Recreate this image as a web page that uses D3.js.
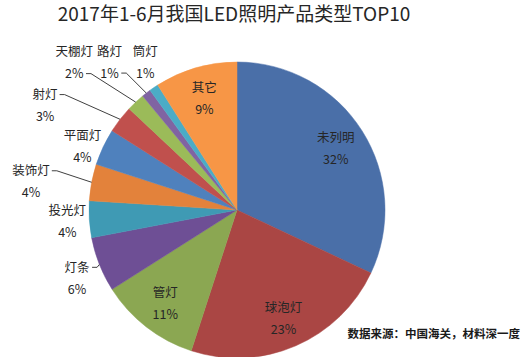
<!DOCTYPE html>
<html><head><meta charset="utf-8">
<script src="https://cdn.jsdelivr.net/npm/d3@7"></script>
<style>
body{margin:0;background:#fff;}
svg{display:block;}
text{font-family:"Noto Sans CJK SC","Noto Sans",sans-serif;}
</style></head>
<body>
<svg id="c" width="527" height="357"></svg>
<script>
const categories = ["未列明","球泡灯","管灯","灯条","投光灯","装饰灯","平面灯","射灯","天棚灯","路灯","筒灯","其它"];
const values = [32,23,11,6,4,4,4,3,2,1,1,9];
const colors = ["#4a6fa8","#aa4644","#8ba752","#6e4f95","#3f9ab4","#e3823b","#4f81bd","#c0504d","#9bbb59","#8064a2","#4bacc6","#f79646"];
const title = "2017年1-6月我国LED照明产品类型TOP10";
const source = "数据来源：中国海关，材料深一度";

// label layout (positions/styles, separate from data)
const insideSet = new Set(["未列明","球泡灯","管灯","其它"]);
const nudges = {
  "灯条":[0,4,"name"], "投光灯":[2,0,null], "装饰灯":[-37,3,"name"], "平面灯":[1,9,null],
  "射灯":[-56,0,"name"], "天棚灯":[-45,-23,"pct"], "路灯":[-22,-13,"pct"], "筒灯":[5,-6,null]
};

const W=527,H=357, cx=237, cy=210, R=148;
const svg=d3.select("#c");
svg.append("text").attr("x",234).attr("y",21).attr("text-anchor","middle")
  .attr("font-size",19).attr("fill","#262626").text(title);

const data = categories.map((c,i)=>({name:c,value:values[i],color:colors[i]}));
const pie = d3.pie().value(d=>d.value).sort(null);
const arcs = pie(data);
const arc = d3.arc().innerRadius(0).outerRadius(R);
const g = svg.append("g").attr("transform",`translate(${cx},${cy})`);
g.selectAll("path").data(arcs).join("path").attr("d",arc).attr("fill",d=>d.data.color)
  .attr("stroke",d=>d.data.color).attr("stroke-width",0.5);

const fs=12.5;
arcs.forEach(a=>{
  const mid=(a.startAngle+a.endAngle)/2;
  const name=a.data.name, pct=Math.round(a.value)+"%";
  let x,y, lead=null;
  if(insideSet.has(name)){
    const c=d3.arc().innerRadius(117).outerRadius(117).centroid(a);
    x=c[0]; y=c[1];
  } else {
    const r=172;
    const n=nudges[name]||[0,0,null];
    x=r*Math.sin(mid)+n[0]; y=-r*Math.cos(mid)+n[1]; lead=n[2];
  }
  const col = "#262626";
  const t1=g.append("text").attr("x",x).attr("y",y-11).attr("text-anchor","middle")
    .attr("dominant-baseline","central").attr("font-size",fs).attr("fill",col).text(name);
  const t2=g.append("text").attr("x",x).attr("y",y+11).attr("text-anchor","middle")
    .attr("dominant-baseline","central").attr("font-size",fs).attr("fill",col).text(pct);
  if(lead){
    const tn = lead==="name"?t1:t2;
    const bb = tn.node().getBBox();
    const sx = bb.x+bb.width+2, sy = lead==="name"? y-10 : y+12;
    const ex = R*Math.sin(mid), ey=-R*Math.cos(mid);
    g.append("path").attr("d",`M${sx},${sy}L${sx+5},${sy}L${ex},${ey}`)
      .attr("fill","none").attr("stroke","#404040").attr("stroke-width",1);
  }
});

svg.append("text").attr("x",520).attr("y",333).attr("text-anchor","end")
  .attr("dominant-baseline","central").attr("font-size",11.5).attr("font-weight","bold")
  .attr("fill","#1a1a1a").text(source);
</script>
</body></html>
